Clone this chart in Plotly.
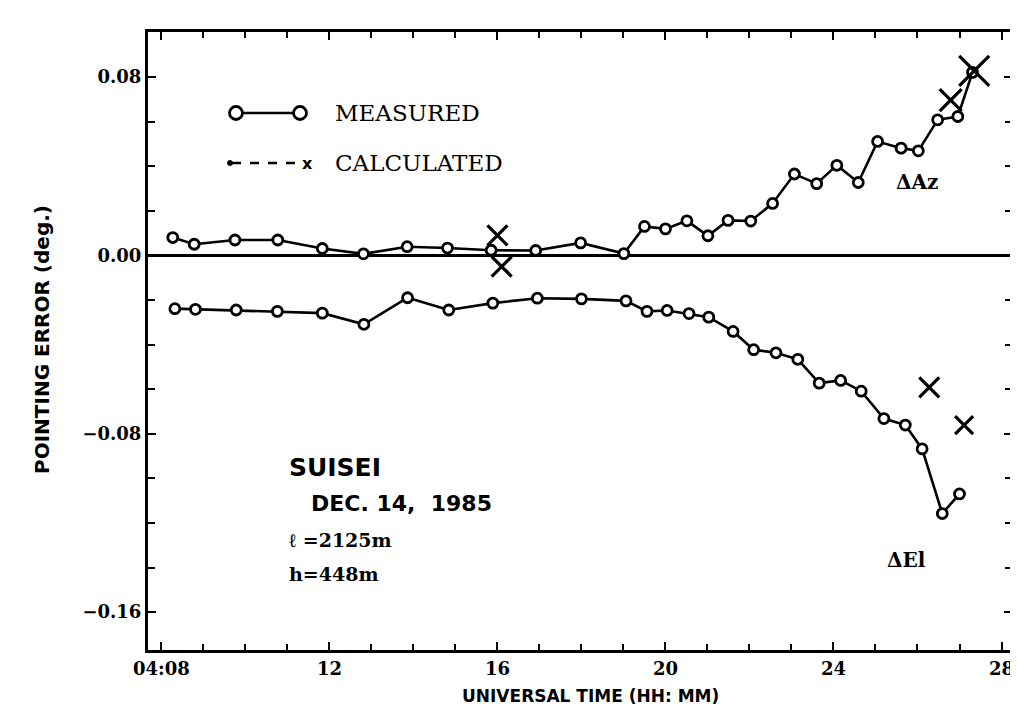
import plotly.graph_objects as go

# ---- data (minutes after 04:00 UT, pointing error in deg.) ----
az_time = [8.27, 8.78, 9.75, 10.77, 11.83, 12.81, 13.85, 14.81, 15.85, 16.91, 17.98, 19.01,
           19.5, 20.0, 20.51, 21.01, 21.49, 22.03, 22.55, 23.07, 23.6, 24.08, 24.59, 25.05,
           25.61, 26.02, 26.48, 26.96, 27.31]
az_meas = [0.0080, 0.0050, 0.0069, 0.0069, 0.0031, 0.0007, 0.0039, 0.0033, 0.0023, 0.0022,
           0.0056, 0.0008, 0.0130, 0.0119, 0.0155, 0.0088, 0.0157, 0.0154, 0.0233, 0.0365,
           0.0322, 0.0404, 0.0327, 0.0511, 0.0481, 0.0469, 0.0608, 0.0623, 0.0821]

el_time = [8.32, 8.81, 9.78, 10.76, 11.83, 12.82, 13.86, 14.84, 15.89, 16.95, 18.0, 19.06,
           19.56, 20.04, 20.56, 21.03, 21.61, 22.1, 22.63, 23.15, 23.66, 24.17, 24.66, 25.2,
           25.71, 26.11, 26.59, 27.0]
el_meas = [-0.0239, -0.0242, -0.0245, -0.0251, -0.0259, -0.0309, -0.0190, -0.0245, -0.0214,
           -0.0192, -0.0195, -0.0204, -0.0251, -0.0247, -0.0261, -0.0277, -0.0341, -0.0423,
           -0.0437, -0.0466, -0.0573, -0.0561, -0.0609, -0.0732, -0.0761, -0.0868, -0.1158,
           -0.1070]

calc_time = [16.0, 16.1, 26.79, 27.35, 26.28, 27.11]
calc_val = [0.0090, -0.0050, 0.0696, 0.0828, -0.0592, -0.0761]

x_tickvals = [8, 12, 16, 20, 24, 28]
x_ticktext = ["04:08", "12", "16", "20", "24", "28"]
y_tickvals = [0.08, 0.0, -0.08, -0.16]
y_ticktext = ["0.08", "0.00", "\u22120.08", "\u22120.16"]

# ---- figure ----
fig = go.Figure()
fig.update_layout(template="none")
meas_marker = dict(symbol="circle", size=10, color="white", line=dict(color="black", width=2.8))
fig.add_trace(go.Scatter(x=az_time, y=az_meas, mode="lines+markers",
                         line=dict(color="black", width=2.6), marker=meas_marker,
                         showlegend=False, cliponaxis=False))
fig.add_trace(go.Scatter(x=el_time, y=el_meas, mode="lines+markers",
                         line=dict(color="black", width=2.6), marker=meas_marker,
                         showlegend=False, cliponaxis=False))
calc_sizes = [20, 20, 22, 30, 20, 18]
fig.add_trace(go.Scatter(x=calc_time, y=calc_val, mode="markers",
                         marker=dict(symbol="x-thin", size=calc_sizes, color="black",
                                     opacity=1, line=dict(color="#000000", width=3.2)),
                         showlegend=False, cliponaxis=False))

tickfont = dict(family="DejaVu Serif", size=18, color="black", weight="bold")
fig.update_xaxes(range=[7.68, 28.25], tickvals=x_tickvals, ticktext=x_ticktext,
                 ticks="inside", ticklen=8, tickwidth=2, tickcolor="black",
                 minor=dict(dtick=1, ticks="inside", ticklen=6, tickwidth=2, tickcolor="black"),
                 showline=True, linewidth=3, linecolor="black", mirror="ticks",
                 showgrid=False, zeroline=False, tickfont=tickfont)
fig.update_yaxes(range=[-0.177, 0.1002], tickvals=y_tickvals, ticktext=y_ticktext,
                 ticks="inside", ticklen=8, tickwidth=2, tickcolor="black",
                 minor=dict(dtick=0.02, ticks="inside", ticklen=7, tickwidth=2, tickcolor="black"),
                 showline=True, linewidth=3, linecolor="black", mirror="ticks",
                 showgrid=False, zeroline=True, zerolinewidth=3, zerolinecolor="black",
                 tickfont=tickfont)

# ---- hand-drawn legend and labels (page pixel -> paper coords) ----
PL, PR, PT, PB = 148, 1012, 32, 650


def px_x(p):
    return (p - PL) / (PR - PL)


def px_y(p):
    return (PB - p) / (PB - PT)


shapes = []
ly1 = px_y(113)
shapes.append(dict(type="line", xref="paper", yref="paper", x0=px_x(236), x1=px_x(300),
                   y0=ly1, y1=ly1, line=dict(color="black", width=2.6)))
for cx in (236, 300):
    shapes.append(dict(type="circle", xref="paper", yref="paper", xsizemode="pixel",
                       ysizemode="pixel", xanchor=px_x(cx), yanchor=ly1, x0=-6.5, x1=6.5,
                       y0=-6.5, y1=6.5, fillcolor="white", line=dict(color="black", width=2.8)))
ly2 = px_y(163)
shapes.append(dict(type="line", xref="paper", yref="paper", x0=px_x(232), x1=px_x(302),
                   y0=ly2, y1=ly2, line=dict(color="black", width=2.6, dash="dash")))
shapes.append(dict(type="circle", xref="paper", yref="paper", xsizemode="pixel",
                   ysizemode="pixel", xanchor=px_x(230), yanchor=ly2, x0=-2.5, x1=2.5,
                   y0=-2.5, y1=2.5, fillcolor="black", line=dict(color="black", width=1)))
fig.update_layout(shapes=shapes)

ann = []
legfont = dict(family="DejaVu Serif", size=23, color="black")
ann.append(dict(xref="paper", yref="paper", x=px_x(333), y=ly1, text="MEASURED",
                showarrow=False, xanchor="left", yanchor="middle", font=legfont))
ann.append(dict(xref="paper", yref="paper", x=px_x(333), y=ly2, text="CALCULATED",
                showarrow=False, xanchor="left", yanchor="middle", font=legfont))
ann.append(dict(xref="paper", yref="paper", x=px_x(307), y=ly2, text="<b>x</b>",
                showarrow=False, xanchor="center", yanchor="middle",
                font=dict(family="DejaVu Sans", size=16, color="black")))

lblfont = dict(family="DejaVu Serif", size=20, color="black")
ann.append(dict(x=26.0, y=0.033, text="<b>\u0394Az</b>", showarrow=False, font=lblfont))
ann.append(dict(x=25.75, y=-0.1365, text="<b>\u0394El</b>", showarrow=False, font=lblfont))

ann.append(dict(xref="paper", yref="paper", x=px_x(287), y=px_y(467), text="<b>SUISEI</b>",
                showarrow=False, xanchor="left", yanchor="middle",
                font=dict(family="DejaVu Sans", size=25, color="black")))
ann.append(dict(xref="paper", yref="paper", x=px_x(309), y=px_y(503),
                text="<b>DEC. 14,  1985</b>", showarrow=False, xanchor="left",
                yanchor="middle", font=dict(family="DejaVu Sans", size=22, color="black")))
smallfont = dict(family="DejaVu Serif", size=19, color="black")
ann.append(dict(xref="paper", yref="paper", x=px_x(287), y=px_y(540),
                text="<b>\u2113 =2125m</b>", showarrow=False, xanchor="left",
                yanchor="middle", font=smallfont))
ann.append(dict(xref="paper", yref="paper", x=px_x(287), y=px_y(574),
                text="<b>h=448m</b>", showarrow=False, xanchor="left",
                yanchor="middle", font=smallfont))

ann.append(dict(xref="paper", yref="paper", x=px_x(42), y=px_y(340),
                text="<b>POINTING ERROR (deg.)</b>", showarrow=False, textangle=-90,
                xanchor="center", yanchor="middle",
                font=dict(family="DejaVu Sans", size=20, color="black")))
ann.append(dict(xref="paper", yref="paper", x=px_x(590), y=px_y(684),
                text="<b>UNIVERSAL TIME (HH: MM)</b>", showarrow=False,
                xanchor="center", yanchor="top",
                font=dict(family="DejaVu Sans", size=17, color="black")))
fig.update_layout(annotations=ann)

# the page body adds an 8px offset, so the figure is 8px smaller and shifted
fig.update_layout(width=1010, height=699,
                  margin=dict(l=PL - 8, r=1010 - (PR - 8), t=PT - 8, b=699 - (PB - 8)),
                  paper_bgcolor="white", plot_bgcolor="white", showlegend=False)

fig.write_html("out.html")
